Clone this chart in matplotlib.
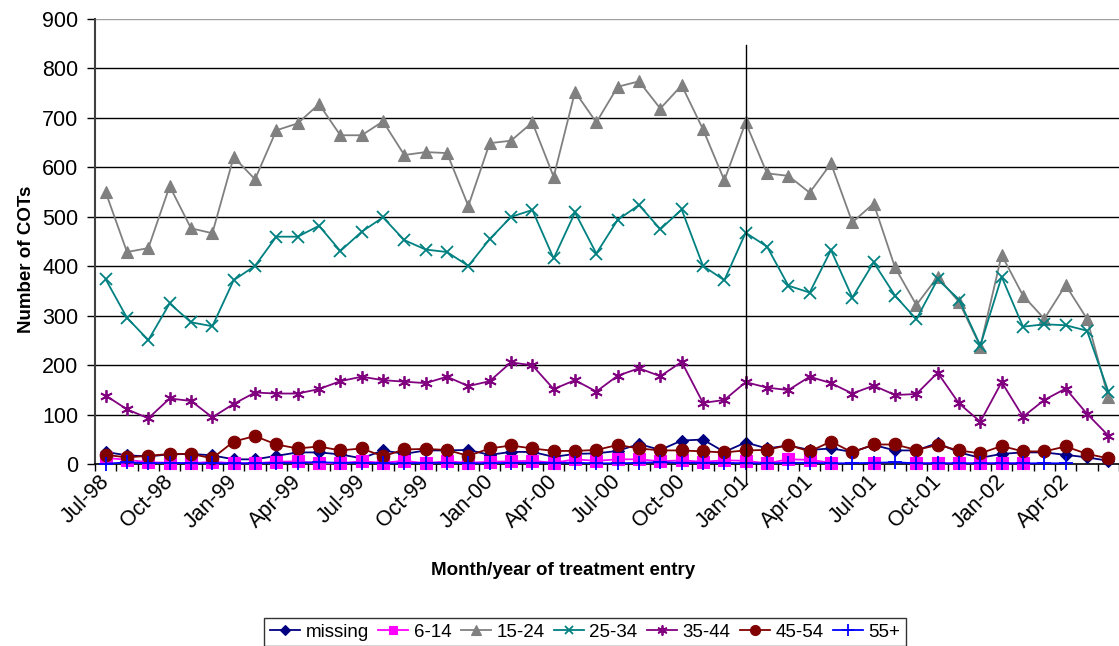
import numpy as np
import matplotlib
matplotlib.use("Agg")
import matplotlib.pyplot as plt
import matplotlib.transforms as mtransforms

plt.rcParams['font.family'] = ['Liberation Sans', 'DejaVu Sans']

# monthly COT counts, Jul-98 .. Jun-02 (48 months)
nan = np.nan
missing = [25, 18, 16, 20, 21, 18, 10, 10, 17, 24, 24, 20, 12, 28, 21, 28, 28, 29, 19, 25,
           25, 15, 21, 22, 27, 41, 29, 48, 50, 25, 44, 32, 38, 29, 32, 25, 39, 28, 28, 43,
           24, 13, 21, 24, 24, 19, 14, 7]
age_6_14 = [13, 9, 4, 3, 2, 5, 2, 2, 5, 6, 2, 2, 6, 3, 7, 2, 6, 3, 5, 6,
            7, 3, 10, 7, 10, 10, 6, 8, 5, 8, 7, 2, 10, 9, 3, nan, 3, nan, 2, 2,
            2, 2, 2, 2, nan, nan, nan, nan]
age_15_24 = [550, 429, 437, 562, 477, 467, 621, 576, 675, 689, 728, 665, 665, 693, 625, 631, 629, 522, 649, 654,
             691, 581, 753, 691, 763, 774, 719, 766, 677, 574, 691, 588, 583, 549, 608, 489, 527, 398, 322, 379,
             328, 238, 423, 341, 294, 362, 294, 135]
age_25_34 = [374, 296, 251, 325, 287, 279, 372, 401, 460, 460, 482, 431, 470, 499, 453, 434, 429, 401, 455, 500,
             514, 416, 509, 426, 494, 524, 475, 515, 401, 372, 468, 440, 361, 347, 433, 337, 408, 341, 293, 374,
             333, 240, 379, 278, 283, 281, 270, 147]
age_35_44 = [139, 111, 93, 133, 128, 95, 122, 145, 143, 143, 152, 168, 177, 170, 167, 164, 177, 158, 168, 206,
             200, 152, 170, 147, 179, 194, 178, 207, 124, 130, 166, 155, 150, 177, 164, 143, 159, 140, 142, 185,
             123, 86, 166, 96, 130, 153, 102, 58]
age_45_54 = [19, 14, 17, 21, 21, 12, 46, 57, 40, 32, 36, 28, 32, 16, 30, 31, 29, 17, 32, 38,
             32, 27, 27, 29, 39, 32, 28, 28, 26, 24, 28, 29, 39, 26, 46, 24, 40, 40, 29, 39,
             28, 22, 37, 26, 26, 36, 21, 12]
age_55_plus = [1, 4, 2, 3, 2, 2, 2, 2, 3, 3, 4, 3, 3, 2, 2, 3, 3, 2, 2, 3,
               3, 3, 3, 2, 2, 3, 4, 3, 3, 3, 2, 2, 3, 3, 2, 2, 3, 4, 2, 2,
               2, 2, 2, 2, 2, 2, nan, nan]

tick_labels = ['Jul-98', 'Oct-98', 'Jan-99', 'Apr-99', 'Jul-99', 'Oct-99', 'Jan-00', 'Apr-00',
               'Jul-00', 'Oct-00', 'Jan-01', 'Apr-01', 'Jul-01', 'Oct-01', 'Jan-02', 'Apr-02']
marker_month = 'Jan-01'

series = [
    ('missing', missing, '#000080', 'D', 6),
    ('6-14', age_6_14, '#FF00FF', 's', 8),
    ('15-24', age_15_24, '#808080', '^', 9),
    ('25-34', age_25_34, '#008080', 'x', 8),
    ('35-44', age_35_44, '#800080', (6, 2, 0), 9),
    ('45-54', age_45_54, '#800000', 'o', 9),
    ('55+', age_55_plus, '#0000FF', '+', 10),
]

fig = plt.figure(figsize=(11.19, 6.46), dpi=100)
ax = fig.add_axes([0.0849, 0.2813, 0.9151, 0.6893])

x = np.arange(len(missing))
for name, vals, col, mk, ms in series:
    ax.plot(x, vals, color=col, marker=mk, markersize=ms, linewidth=1.3,
            markeredgewidth=1.3 if mk in ('x', '+', (6, 2, 0)) else 0.8,
            markeredgecolor=col, markerfacecolor=col, label=name, clip_on=False, zorder=3)

# vertical marker line at Jan-01
xm = tick_labels.index(marker_month) * 3
ax.plot([xm, xm], [-38, 847], color='black', linewidth=1.0, clip_on=False, zorder=4)

ax.set_xlim(-0.5, len(missing) - 0.5)
ax.set_ylim(0, 900)
ax.set_yticks(np.arange(0, 901, 100))
ax.set_xticks(np.arange(0, len(missing), 3))
ax.set_xticklabels(tick_labels, rotation=45, ha='right', va='top', rotation_mode='anchor')
ax.set_xticks(np.arange(-0.5, len(missing), 1), minor=True)
ax.tick_params(axis='x', which='major', length=0, pad=5, labelsize=15.5)
ax.tick_params(axis='x', which='minor', length=5, direction='out', width=1)
ax.tick_params(axis='y', length=6, direction='out', width=1, labelsize=15.5, pad=6)

shift = mtransforms.ScaledTranslation(-7 / 100, 0, fig.dpi_scale_trans)
for lab in ax.get_xticklabels():
    lab.set_transform(lab.get_transform() + shift)

for y in range(100, 900, 100):
    ax.axhline(y, color='black', linewidth=1.0, zorder=1)
ax.axhline(900, color='#a0a0a0', linewidth=1.0, zorder=1)

for s in ('top', 'right'):
    ax.spines[s].set_visible(False)
ax.spines['left'].set_color('#404040')
ax.spines['left'].set_linewidth(1.5)
ax.spines['bottom'].set_color('black')
ax.spines['bottom'].set_linewidth(1.2)

ax.set_ylabel('Number of COTs', fontsize=13.5, fontweight='bold')
ax.yaxis.set_label_coords(-0.0586, 0.46)
ax.set_xlabel('Month/year of treatment entry', fontsize=13.5, fontweight='bold')
ax.xaxis.set_label_coords(0.457, -0.219)

leg = fig.legend(loc='upper left', bbox_to_anchor=(0.236, 0.0433), ncol=7,
                 fontsize=13.5, frameon=True, fancybox=False, edgecolor='black',
                 handlelength=1.6, handletextpad=0.3, columnspacing=0.5,
                 borderpad=0.3, borderaxespad=0, markerscale=0.8)
leg.get_frame().set_linewidth(1.0)

fig.savefig('out.png', dpi=100)
